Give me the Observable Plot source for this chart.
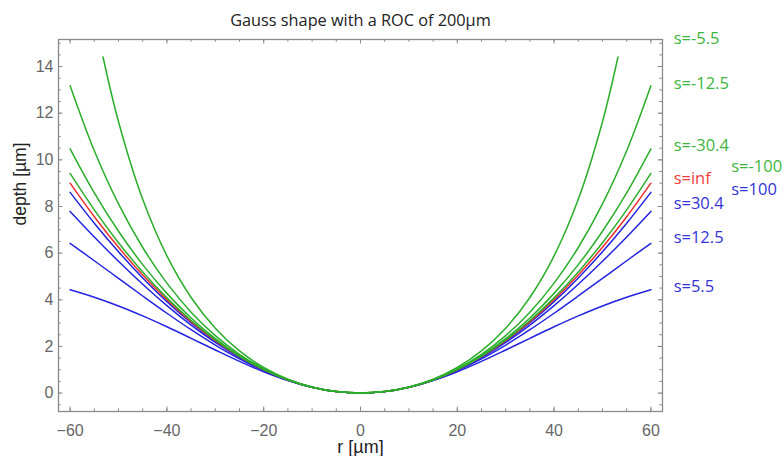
<!DOCTYPE html>
<html><head><meta charset="utf-8">
<script src="https://cdn.jsdelivr.net/npm/d3@7"></script>
<script src="https://cdn.jsdelivr.net/npm/@observablehq/plot@0.6"></script>
<style>body{margin:0;background:#fff;} svg{display:block}</style>
</head><body><div id="chart"></div>
<script>
// radial positions (µm)
const rFull = [-60,-55,-50,-45,-40,-35,-30,-25,-20,-15,-10,-5,0,5,10,15,20,25,30,35,40,45,50,55,60];
const rShort = [-53.2,-50,-45,-40,-35,-30,-25,-20,-15,-10,-5,0,5,10,15,20,25,30,35,40,45,50,53.2];

// depth values (µm)
const depthS5p5   = [4.429,4.109,3.735,3.309,2.842,2.348,1.847,1.360,0.914,0.535,0.244,0.062,0,0.062,0.244,0.535,0.914,1.360,1.847,2.348,2.842,3.309,3.735,4.109,4.429];
const depthS12p5  = [6.416,5.674,4.918,4.163,3.423,2.716,2.059,1.469,0.961,0.550,0.248,0.062,0,0.062,0.248,0.550,0.961,1.469,2.059,2.716,3.423,4.163,4.918,5.674,6.416];
const depthS30p4  = [7.790,6.695,5.649,4.664,3.748,2.913,2.169,1.523,0.984,0.557,0.249,0.062,0,0.062,0.249,0.557,0.984,1.523,2.169,2.913,3.748,4.664,5.649,6.695,7.790];
const depthS100   = [8.607,7.284,6.059,4.937,3.921,3.016,2.225,1.550,0.995,0.561,0.250,0.062,0,0.062,0.250,0.561,0.995,1.550,2.225,3.016,3.921,4.937,6.059,7.284,8.607];
const depthSinf   = [9.000,7.563,6.250,5.063,4.000,3.063,2.250,1.563,1.000,0.563,0.250,0.063,0,0.063,0.250,0.563,1.000,1.563,2.250,3.063,4.000,5.063,6.250,7.563,9.000];
const depthSm100  = [9.417,7.856,6.449,5.193,4.081,3.110,2.276,1.575,1.005,0.564,0.250,0.063,0,0.063,0.250,0.564,1.005,1.575,2.276,3.110,4.081,5.193,6.449,7.856,9.417];
const depthSm30p4 = [10.474,8.586,6.939,5.508,4.275,3.222,2.335,1.603,1.017,0.568,0.251,0.063,0,0.063,0.251,0.568,1.017,1.603,2.335,3.222,4.275,5.508,6.939,8.586,10.474];
const depthSm12p5 = [13.180,10.391,8.109,6.241,4.714,3.470,2.465,1.664,1.041,0.575,0.253,0.063,0,0.063,0.253,0.575,1.041,1.664,2.465,3.470,4.714,6.241,8.109,10.391,13.180];
const depthSm5p5  = [14.41,11.635,8.307,5.882,4.098,2.780,1.807,1.097,0.592,0.256,0.063,0,0.063,0.256,0.592,1.097,1.807,2.780,4.098,5.882,8.307,11.635,14.41];

const seriesNames = ["s=5.5","s=12.5","s=30.4","s=100","s=inf","s=-100","s=-30.4","s=-12.5","s=-5.5"];
const seriesR = [rFull,rFull,rFull,rFull,rFull,rFull,rFull,rFull,rShort];
const seriesDepth = [depthS5p5,depthS12p5,depthS30p4,depthS100,depthSinf,depthSm100,depthSm30p4,depthSm12p5,depthSm5p5];
const BLUE = "#2323e0", RED = "#ee2e2e", GREEN = "#2aae2a";
const seriesColor = [BLUE,BLUE,BLUE,BLUE,RED,GREEN,GREEN,GREEN,GREEN];

// right-hand labels (data units)
const labelText  = ["s=-5.5","s=-12.5","s=-30.4","s=-100","s=inf","s=100","s=30.4","s=12.5","s=5.5"];
const labelX     = [64.7,64.7,64.7,76.6,64.7,76.6,64.7,64.7,64.7];
const labelY     = [15.2,13.27,10.62,9.72,9.2,8.73,8.13,6.68,4.54];
const labelColor = ["#3db53d","#3db53d","#3db53d","#3db53d","#f03c3c","#3434d8","#3434d8","#3434d8","#3434d8"];

// ticks
const xMajor = [-60,-40,-20,0,20,40,60];
const xMinor = [-60,-55,-50,-45,-40,-35,-30,-25,-20,-15,-10,-5,0,5,10,15,20,25,30,35,40,45,50,55,60];
const yMajor = [0,2,4,6,8,10,12,14];
const yMinor = [-0.5,0,0.5,1,1.5,2,2.5,3,3.5,4,4.5,5,5.5,6,6.5,7,7.5,8,8.5,9,9.5,10,10.5,11,11.5,12,12.5,13,13.5,14,14.5,15];

const rows = seriesNames.flatMap((name, k) =>
  seriesR[k].map((r, i) => ({name, r, d: seriesDepth[k][i], color: seriesColor[k]})));
const labels = labelText.map((t, i) => ({t, x: labelX[i], y: labelY[i], c: labelColor[i]}));

const W = 784, H = 456, mL = 58, mR = 122, mT = 39, mB = 45;
const fw = W - mL - mR, fh = H - mT - mB;
const TC = "#8a8a8a", MAJ = 4.5, MIN = 2.7;

const chart = Plot.plot({
  width: W, height: H,
  marginLeft: mL, marginRight: mR, marginTop: mT, marginBottom: mB,
  x: {domain: [-62.4, 62.4], axis: null},
  y: {domain: [-0.79, 15.16], axis: null},
  color: {type: "identity"},
  style: {fontFamily: "'Liberation Sans', Arial, sans-serif", background: "#fff"},
  marks: [
    // minor ticks
    Plot.tickX(xMinor, {x: d => d, insetTop: fh - MIN, stroke: TC}),
    Plot.tickX(xMinor, {x: d => d, insetBottom: fh - MIN, stroke: TC}),
    Plot.tickY(yMinor, {y: d => d, insetRight: fw - MIN, stroke: TC}),
    Plot.tickY(yMinor, {y: d => d, insetLeft: fw - MIN, stroke: TC}),
    // major ticks
    Plot.tickX(xMajor, {x: d => d, insetTop: fh - MAJ, stroke: TC}),
    Plot.tickX(xMajor, {x: d => d, insetBottom: fh - MAJ, stroke: TC}),
    Plot.tickY(yMajor, {y: d => d, insetRight: fw - MAJ, stroke: TC}),
    Plot.tickY(yMajor, {y: d => d, insetLeft: fw - MAJ, stroke: TC}),
    Plot.axisX(xMajor, {anchor: "bottom", tickSize: 0, tickPadding: 13, fontSize: 16, fill: "#666",
      tickFormat: d => d < 0 ? "\u2212" + Math.abs(d) : String(d), label: null}),
    Plot.axisY(yMajor, {anchor: "left", tickSize: 0, tickPadding: 5, fontSize: 16, fill: "#666", label: null}),
    Plot.line(rows, {x: "r", y: "d", z: "name", stroke: "color", strokeWidth: 1.5, curve: "catmull-rom"}),
    Plot.frame({stroke: TC, strokeWidth: 1.3}),
    Plot.text(labels, {x: "x", y: "y", text: "t", fill: "c", textAnchor: "start", lineAnchor: "middle",
      fontSize: 16.5, fontFamily: "'Open Sans', sans-serif"}),
    Plot.text(["Gauss shape with a ROC of 200µm"], {frameAnchor: "top", dy: -19, lineAnchor: "middle",
      fontSize: 16.3, fontFamily: "'Open Sans', sans-serif", fill: "#222"}),
    Plot.text(["r [µm]"], {frameAnchor: "bottom", dy: 36, lineAnchor: "middle", fontSize: 18, fill: "#222"}),
    Plot.text(["depth [µm]"], {frameAnchor: "left", dx: -38, rotate: -90, lineAnchor: "middle", fontSize: 17.5, fill: "#222"})
  ]
});
document.getElementById("chart").appendChild(chart);
</script>
</body></html>
